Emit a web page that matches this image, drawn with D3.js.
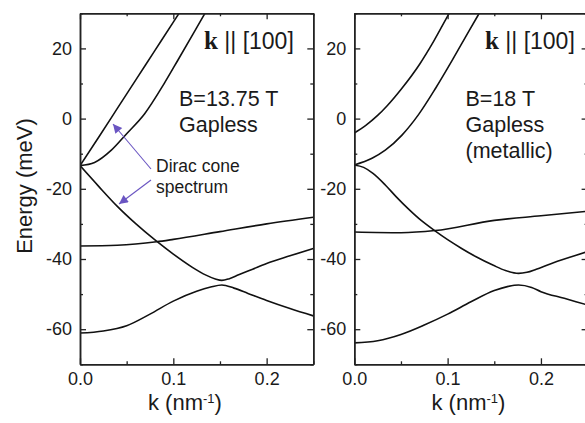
<!DOCTYPE html>
<html>
<head>
<meta charset="utf-8">
<script src="https://cdn.jsdelivr.net/npm/d3@7"></script>
<style>
  html, body { margin: 0; padding: 0; background: #fff; }
  svg { display: block; }
  text { font-family: "Liberation Sans", Arial, sans-serif; fill: #1a1a1a; }
</style>
</head>
<body>
<svg id="chart" width="585" height="423"></svg>
<script>
// Landau-level dispersion E(k), k || [100], two magnetic fields

// ---- panel (a): B = 13.75 T ----
const kA_coneUp   = [0, 0.02, 0.04, 0.06, 0.08, 0.10, 0.115];
const eA_coneUp   = [-13.4, -5.3, 2.9, 11.1, 19.3, 27.5, 33.6];
const kA_coneLow  = [0, 0.0156, 0.0336, 0.05, 0.0693, 0.09, 0.105, 0.13, 0.14];
const eA_coneLow  = [-13.4, -12.5, -9.0, -4.3, 1.4, 9.9, 16.7, 28.2, 32.8];
const kA_down     = [0, 0.02, 0.04, 0.06, 0.08, 0.10, 0.12, 0.135, 0.145, 0.152, 0.16, 0.17, 0.185, 0.20, 0.225, 0.25];
const eA_down     = [-13.4, -19.3, -25.0, -30.0, -34.5, -38.6, -42.3, -44.6, -45.7, -46.1, -45.6, -44.5, -42.9, -41.3, -39.1, -37.0];
const kA_lowest   = [0, 0.025, 0.05, 0.075, 0.10, 0.125, 0.14, 0.152, 0.165, 0.18, 0.20, 0.225, 0.25];
const eA_lowest   = [-61.1, -60.5, -59.0, -55.7, -52.0, -49.2, -48.0, -47.4, -48.3, -49.8, -51.8, -54.1, -56.2];
const kA_flat     = [0, 0.04, 0.082, 0.10, 0.15, 0.20, 0.25];
const eA_flat     = [-36.3, -36.1, -35.1, -34.4, -32.2, -30.0, -28.1];

// ---- panel (b): B = 18 T ----
const kB_top      = [0, 0.012, 0.025, 0.035, 0.05, 0.07, 0.085, 0.10, 0.11];
const eB_top      = [-4.1, -2.0, 0.9, 3.6, 8.3, 15.5, 22.0, 29.2, 33.8];
const kB_second   = [0, 0.019, 0.0332, 0.0511, 0.069, 0.0868, 0.1047, 0.1225, 0.1332, 0.14];
const eB_second   = [-13.2, -11.3, -9.0, -4.7, 1.2, 8.5, 16.5, 24.8, 29.7, 32.8];
const kB_down     = [0, 0.01, 0.02, 0.0332, 0.045, 0.0582, 0.072, 0.0865, 0.10, 0.115, 0.13, 0.149, 0.162, 0.176, 0.185, 0.195, 0.21, 0.23, 0.25];
const eB_down     = [-13.2, -13.9, -15.6, -18.9, -22.3, -25.8, -29.1, -32.0, -34.5, -37.0, -39.3, -41.8, -43.3, -44.1, -43.8, -42.9, -41.4, -39.6, -37.9];
const kB_lowest   = [0, 0.025, 0.05, 0.075, 0.10, 0.125, 0.15, 0.165, 0.176, 0.19, 0.20, 0.225, 0.25];
const eB_lowest   = [-63.9, -63.3, -61.5, -58.8, -55.7, -52.2, -49.0, -47.8, -47.4, -48.1, -49.3, -51.2, -53.1];
const kB_flat     = [0, 0.05, 0.0865, 0.15, 0.20, 0.25];
const eB_flat     = [-32.3, -32.5, -31.9, -29.0, -27.7, -26.4];

// axis ticks
const xMajorTicks = [0, 0.1, 0.2];
const xMinorTicks = [0.05, 0.15, 0.25];
const yMajorTicks = [20, 0, -20, -40, -60];
const yMinorTicks = [30, 10, -10, -30, -50, -70];

const kDomain = [0, 0.25];
const eDomain = [-70, 30];

const panels = [
  {
    left: 80, right: 313.3,
    bands: [[kA_coneUp, eA_coneUp], [kA_coneLow, eA_coneLow], [kA_down, eA_down], [kA_lowest, eA_lowest], [kA_flat, eA_flat]],
    dirLabelX: 204,
    notes: ["B=13.75 T", "Gapless"], noteX: 179,
    xTitleX: 148
  },
  {
    left: 354.3, right: 587.6,
    bands: [[kB_top, eB_top], [kB_second, eB_second], [kB_down, eB_down], [kB_lowest, eB_lowest], [kB_flat, eB_flat]],
    dirLabelX: 485,
    notes: ["B=18 T", "Gapless", "(metallic)"], noteX: 465.5,
    xTitleX: 431.5
  }
];

const plotTop = 13.3, plotBottom = 364.3;
const svg = d3.select("#chart");
const axisColor = "#222";
const hyphenFormat = d => String(d);   // plain "-" for negative ticks

panels.forEach((p, i) => {
  const x = d3.scaleLinear().domain(kDomain).range([p.left, p.right]);
  const y = d3.scaleLinear().domain(eDomain).range([plotBottom, plotTop]);
  const g = svg.append("g");

  const clipId = "clip" + i;
  svg.append("clipPath").attr("id", clipId)
    .append("rect").attr("x", p.left).attr("y", plotTop)
    .attr("width", p.right - p.left).attr("height", plotBottom - plotTop);

  // dispersion curves
  const line = d3.line().x(d => x(d[0])).y(d => y(d[1])).curve(d3.curveMonotoneX);
  g.append("g").attr("clip-path", `url(#${clipId})`)
    .selectAll("path").data(p.bands).join("path")
    .attr("d", b => line(d3.zip(b[0], b[1])))
    .attr("fill", "none").attr("stroke", "#111").attr("stroke-width", 1.6);

  // frame with inward ticks on all four sides
  const major = 6, minor = 3;
  const axes = [
    [d3.axisBottom(x).tickValues(xMajorTicks).tickSize(-major).tickPadding(7.5).tickFormat(d3.format(".1f")), `translate(0,${plotBottom})`, true],
    [d3.axisBottom(x).tickValues(xMinorTicks).tickSize(-minor).tickFormat(""), `translate(0,${plotBottom})`, false],
    [d3.axisTop(x).tickValues(xMajorTicks).tickSize(-major).tickFormat(""), `translate(0,${plotTop})`, false],
    [d3.axisTop(x).tickValues(xMinorTicks).tickSize(-minor).tickFormat(""), `translate(0,${plotTop})`, false],
    [d3.axisLeft(y).tickValues(yMajorTicks).tickSize(-major).tickPadding(8).tickFormat(hyphenFormat), `translate(${p.left},0)`, true],
    [d3.axisLeft(y).tickValues(yMinorTicks).tickSize(-minor).tickFormat(""), `translate(${p.left},0)`, false],
    [d3.axisRight(y).tickValues(yMajorTicks).tickSize(-major).tickFormat(""), `translate(${p.right},0)`, false],
    [d3.axisRight(y).tickValues(yMinorTicks).tickSize(-minor).tickFormat(""), `translate(${p.right},0)`, false]
  ];
  axes.forEach(([ax, tr, labelled]) => {
    const a = g.append("g").attr("transform", tr).call(ax.tickSizeOuter(0));
    a.select(".domain").attr("stroke", axisColor).attr("stroke-width", 1.5);
    a.selectAll(".tick line").attr("stroke", axisColor).attr("stroke-width", 1.3);
    a.selectAll(".tick text").attr("font-size", 18).attr("fill", "#1a1a1a")
      .attr("font-family", "Liberation Sans, Arial, sans-serif");
    if (!labelled) a.selectAll(".tick text").remove();
  });

  // direction label: bold serif k, then "|| [100]"
  const dl = g.append("text").attr("x", p.dirLabelX).attr("y", 48.5).attr("font-size", 23);
  dl.append("tspan").text("k").attr("font-family", "Liberation Serif, Times New Roman, serif")
    .attr("font-weight", "bold").attr("font-size", 25);
  dl.append("tspan").text(" || [100]");

  // field / gap annotation
  g.selectAll("text.note").data(p.notes).join("text").attr("class", "note")
    .attr("x", p.noteX).attr("y", (d, j) => 106 + j * 26)
    .attr("font-size", 21.5).text(d => d);

  // x title
  const xt = g.append("text").attr("x", p.xTitleX).attr("y", 410).attr("font-size", 22);
  xt.append("tspan").text("k (nm");
  xt.append("tspan").text("-1").attr("font-size", 13).attr("dy", -7.5);
  xt.append("tspan").text(")").attr("dy", 7.5);
});

// y title
svg.append("text")
  .attr("transform", "translate(32,186) rotate(-90)")
  .attr("text-anchor", "middle").attr("font-size", 22)
  .text("Energy (meV)");

// "Dirac cone spectrum" callout with two purple arrows
const arrowColor = "#6a55c2";
const defs = svg.append("defs");
defs.append("marker").attr("id", "arrowHead")
  .attr("viewBox", "0 0 10 10").attr("refX", 10).attr("refY", 5)
  .attr("markerWidth", 11).attr("markerHeight", 9).attr("markerUnits", "userSpaceOnUse")
  .attr("orient", "auto")
  .append("path").attr("d", "M0,0 L10,5 L0,10 Z").attr("fill", arrowColor);

const arrows = [
  { from: [151, 169], to: [113, 124] },
  { from: [151, 180], to: [119, 204] }
];
svg.selectAll("line.arrow").data(arrows).join("line").attr("class", "arrow")
  .attr("x1", d => d.from[0]).attr("y1", d => d.from[1])
  .attr("x2", d => d.to[0]).attr("y2", d => d.to[1])
  .attr("stroke", arrowColor).attr("stroke-width", 1.1)
  .attr("marker-end", "url(#arrowHead)");

svg.append("text").attr("x", 156).attr("y", 172).attr("font-size", 17.5).text("Dirac cone");
svg.append("text").attr("x", 156).attr("y", 193).attr("font-size", 17.5).text("spectrum");
</script>
</body>
</html>
